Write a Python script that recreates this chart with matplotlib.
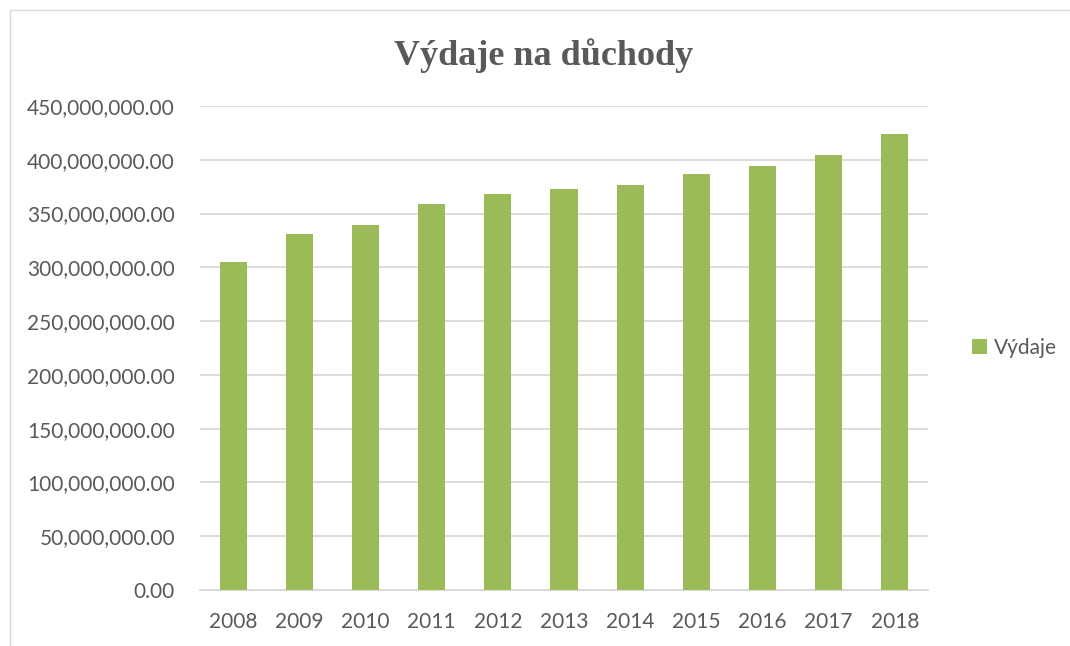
import matplotlib.pyplot as plt
from matplotlib.lines import Line2D
from matplotlib.ticker import FuncFormatter

# Data
years = ['2008', '2009', '2010', '2011', '2012', '2013', '2014', '2015', '2016', '2017', '2018']
vydaje = [304.7e6, 331.2e6, 339.6e6, 359.3e6, 368.0e6, 372.8e6,
          376.5e6, 386.8e6, 394.4e6, 404.7e6, 424.0e6]

bar_color = '#9BBB59'
text_color = '#595959'
grid_color = '#D9D9D9'

plt.rcParams['font.family'] = ['Lato', 'DejaVu Sans']

fig = plt.figure(figsize=(10.7, 6.46), dpi=100)
ax = fig.add_axes([200 / 1070, 56 / 646, 728 / 1070, 484 / 646])

x = range(len(years))
ax.bar(x, vydaje, width=0.41, color=bar_color, label='Výdaje', zorder=3)

ax.set_xlim(-0.5, len(years) - 0.5)
ax.set_ylim(0, 450e6)
ax.set_yticks([i * 50e6 for i in range(10)])
ax.yaxis.set_major_formatter(FuncFormatter(lambda v, p: f'{v:,.2f}'))
ax.set_xticks(list(x))
ax.set_xticklabels(years)

ax.tick_params(axis='both', length=0, labelsize=15, colors=text_color)
ax.tick_params(axis='y', pad=18)
ax.tick_params(axis='x', pad=16)

ax.grid(axis='y', color=grid_color, linewidth=1.3, zorder=0)
for s in ['top', 'right', 'left']:
    ax.spines[s].set_visible(False)
ax.spines['bottom'].set_color(grid_color)
ax.spines['bottom'].set_linewidth(1.3)

# Title
fig.text(544 / 1070, 1 - 56 / 646, 'Výdaje na důchody', ha='center', va='center',
         fontsize=26, fontweight='bold', color=text_color, family='Liberation Serif')

# Legend on the right
leg = ax.legend(loc='center left', bbox_to_anchor=(1.035, 0.5), frameon=False,
                fontsize=15, handlelength=0.7, handleheight=0.7, handletextpad=0.35)
for t in leg.get_texts():
    t.set_color(text_color)

# Chart border (top and left edges visible)
fig.add_artist(Line2D([10 / 1070, 10 / 1070], [0, 1 - 10 / 646], transform=fig.transFigure,
                      color=grid_color, linewidth=1))
fig.add_artist(Line2D([10 / 1070, 1], [1 - 10 / 646, 1 - 10 / 646], transform=fig.transFigure,
                      color=grid_color, linewidth=1))

plt.savefig('out.png', dpi=100)
